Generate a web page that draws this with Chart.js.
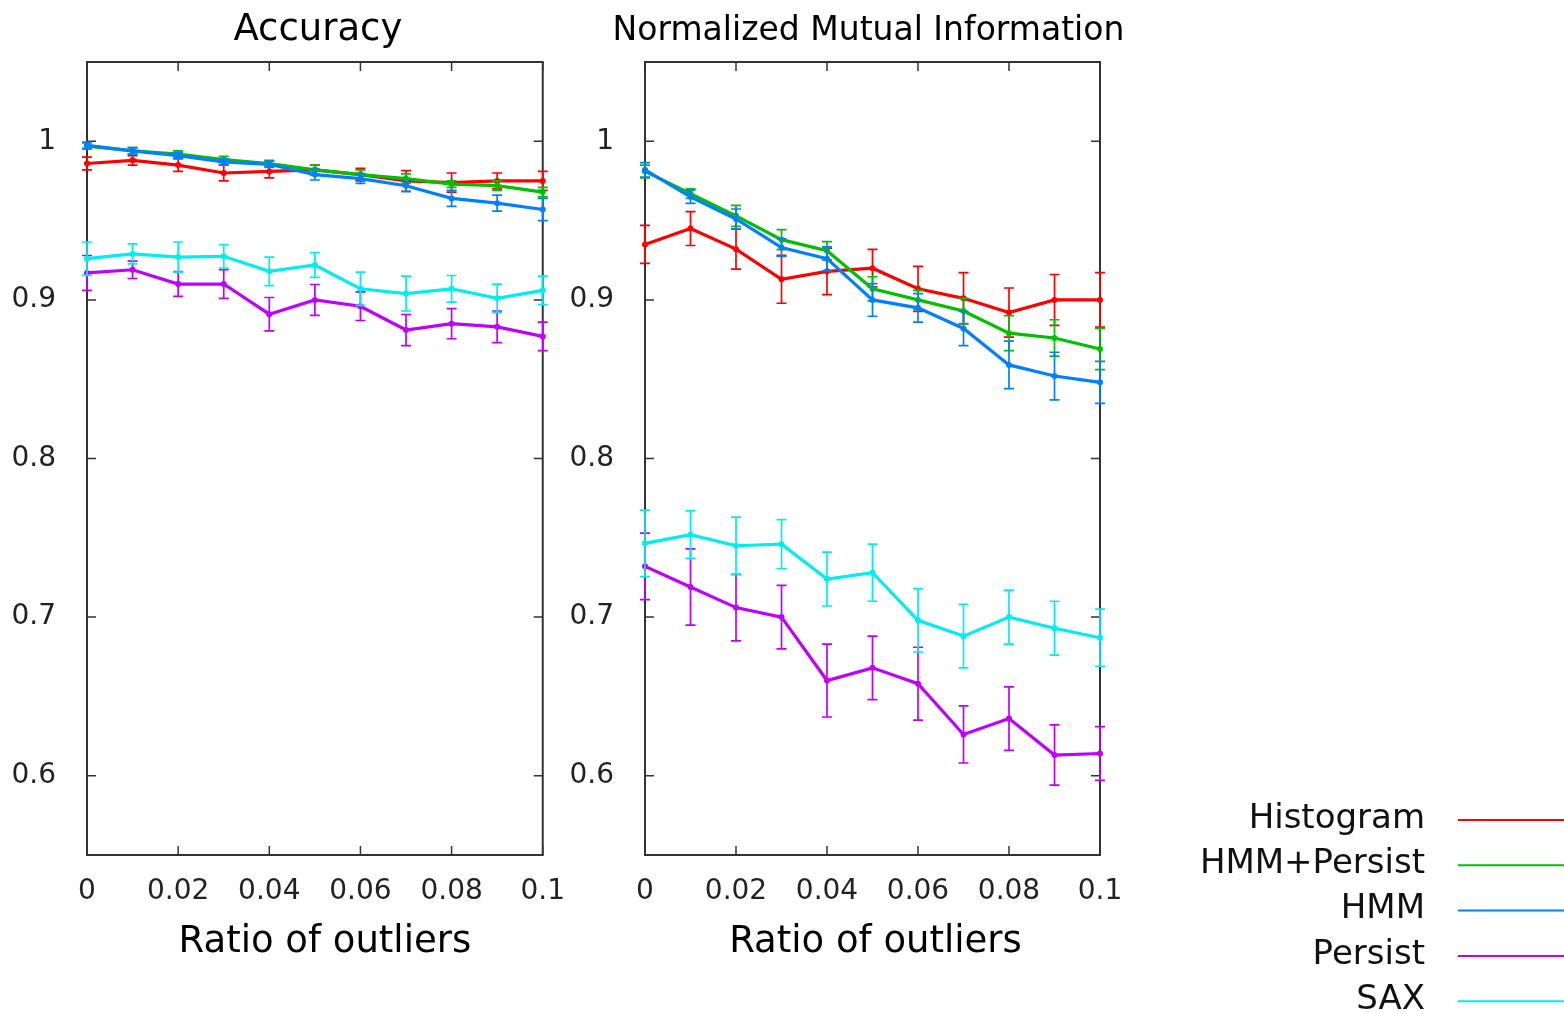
<!DOCTYPE html>
<html><head><meta charset="utf-8">
<script src="https://cdn.jsdelivr.net/npm/chart.js@4.4.1/dist/chart.umd.min.js"></script>
<style>
html,body{margin:0;padding:0;background:#fff;width:1564px;height:1014px;overflow:hidden}
.box{position:absolute;top:0;height:1014px}
#b1{left:0;width:577px}
#b2{left:558px;width:1006px}
</style></head><body>
<div class="box" id="b1"><canvas id="c1"></canvas></div>
<div class="box" id="b2"><canvas id="c2"></canvas></div>
<script>
// ---------- data ----------
const ratios = [0, 0.01, 0.02, 0.03, 0.04, 0.05, 0.06, 0.07, 0.08, 0.09, 0.1];
const xTicks = [0, 0.02, 0.04, 0.06, 0.08, 0.1];
const xTickLabels = ['0', '0.02', '0.04', '0.06', '0.08', '0.1'];
const yTicks = [0.6, 0.7, 0.8, 0.9, 1.0];
const yTickLabels = ['0.6', '0.7', '0.8', '0.9', '1'];
const seriesNames = ['Histogram', 'HMM+Persist', 'HMM', 'Persist', 'SAX'];
const seriesColors = ['#ff0000', '#00c000', '#0080ff', '#c000ff', '#00eeee'];
const chartTitles = ['Accuracy', 'Normalized Mutual Information'];
const xAxisTitle = 'Ratio of outliers';

// Accuracy
const accHist      = [0.986, 0.988, 0.985, 0.980, 0.981, 0.982, 0.979, 0.975, 0.974, 0.975, 0.975];
const accHistErr   = [0.004, 0.003, 0.004, 0.005, 0.004, 0.003, 0.004, 0.0065, 0.006, 0.005, 0.006];
const accHmmP      = [0.997, 0.994, 0.992, 0.9885, 0.986, 0.982, 0.979, 0.9765, 0.973, 0.972, 0.968];
const accHmmPErr   = [0.002, 0.002, 0.002, 0.002, 0.002, 0.003, 0.003, 0.003, 0.002, 0.003, 0.003];
const accHmm       = [0.9975, 0.994, 0.991, 0.987, 0.9855, 0.979, 0.9765, 0.972, 0.964, 0.961, 0.957];
const accHmmErr    = [0.002, 0.002, 0.002, 0.002, 0.002, 0.0034, 0.003, 0.0037, 0.005, 0.005, 0.007];
const accPers      = [0.917, 0.919, 0.910, 0.910, 0.891, 0.900, 0.896, 0.881, 0.885, 0.883, 0.877];
const accPersErr   = [0.011, 0.0055, 0.0078, 0.009, 0.0105, 0.0097, 0.009, 0.0098, 0.0095, 0.010, 0.009];
const accSax       = [0.926, 0.929, 0.927, 0.9275, 0.918, 0.922, 0.907, 0.904, 0.907, 0.901, 0.906];
const accSaxErr    = [0.0105, 0.0063, 0.0095, 0.0074, 0.009, 0.0078, 0.0105, 0.011, 0.0084, 0.009, 0.009];

// Normalized Mutual Information
const nmiHist      = [0.935, 0.945, 0.932, 0.913, 0.918, 0.920, 0.907, 0.901, 0.892, 0.900, 0.900];
const nmiHistErr   = [0.012, 0.0107, 0.0126, 0.0151, 0.0147, 0.0118, 0.0142, 0.0162, 0.0155, 0.016, 0.0172];
const nmiHmmP      = [0.981, 0.967, 0.953, 0.938, 0.931, 0.907, 0.900, 0.893, 0.879, 0.876, 0.869];
const nmiHmmPErr   = [0.004, 0.003, 0.0066, 0.0063, 0.0058, 0.0076, 0.006, 0.008, 0.011, 0.0115, 0.013];
const nmiHmm       = [0.982, 0.965, 0.951, 0.933, 0.926, 0.900, 0.895, 0.882, 0.859, 0.852, 0.848];
const nmiHmmErr    = [0.0046, 0.0042, 0.0063, 0.0055, 0.0075, 0.0103, 0.009, 0.0108, 0.015, 0.015, 0.0133];
const nmiPers      = [0.732, 0.719, 0.706, 0.700, 0.660, 0.668, 0.658, 0.626, 0.636, 0.613, 0.614];
const nmiPersErr   = [0.021, 0.024, 0.021, 0.020, 0.023, 0.020, 0.023, 0.018, 0.020, 0.019, 0.017];
const nmiSax       = [0.7465, 0.752, 0.745, 0.746, 0.724, 0.728, 0.698, 0.688, 0.700, 0.693, 0.687];
const nmiSaxErr    = [0.021, 0.015, 0.018, 0.0155, 0.017, 0.018, 0.020, 0.020, 0.017, 0.017, 0.018];

const accValues = [accHist, accHmmP, accHmm, accPers, accSax];
const accErrors = [accHistErr, accHmmPErr, accHmmErr, accPersErr, accSaxErr];
const nmiValues = [nmiHist, nmiHmmP, nmiHmm, nmiPers, nmiSax];
const nmiErrors = [nmiHistErr, nmiHmmPErr, nmiHmmErr, nmiPersErr, nmiSaxErr];

// ---------- styling ----------
const FONT = '"DejaVu Sans", "Liberation Sans", sans-serif';
const FRAME = '#333333';

const errorBarPlugin = {
  id: 'errorBars',
  afterDatasetDraw(chart, args) {
    const ds = chart.data.datasets[args.index];
    if (!ds.errors) return;
    const ctx = chart.ctx, ys = chart.scales.y;
    ctx.save();
    ctx.strokeStyle = ds.borderColor;
    ctx.lineWidth = 1.7;
    args.meta.data.forEach((pt, i) => {
      const v = ds.data[i].y, e = ds.errors[i];
      const t = ys.getPixelForValue(v + e), b = ys.getPixelForValue(v - e);
      const x = pt.x, cw = 5;
      ctx.beginPath();
      ctx.moveTo(x, t); ctx.lineTo(x, b);
      ctx.moveTo(x - cw, t); ctx.lineTo(x + cw, t);
      ctx.moveTo(x - cw, b); ctx.lineTo(x + cw, b);
      ctx.stroke();
    });
    ctx.restore();
  }
};

const framePlugin = {
  id: 'frame',
  beforeDatasetsDraw(chart) {
    const {ctx, chartArea: a, scales} = chart;
    ctx.save();
    ctx.strokeStyle = FRAME;
    ctx.lineWidth = 2;
    ctx.strokeRect(a.left, a.top, a.right - a.left, a.bottom - a.top);
    ctx.lineWidth = 1.5;
    const L = 9;
    ctx.beginPath();
    scales.x.ticks.forEach(t => {
      const x = scales.x.getPixelForValue(t.value);
      ctx.moveTo(x, a.bottom); ctx.lineTo(x, a.bottom - L);
      ctx.moveTo(x, a.top); ctx.lineTo(x, a.top + L);
    });
    scales.y.ticks.forEach(t => {
      const y = scales.y.getPixelForValue(t.value);
      ctx.moveTo(a.left, y); ctx.lineTo(a.left + L, y);
      ctx.moveTo(a.right, y); ctx.lineTo(a.right - L, y);
    });
    ctx.stroke();
    ctx.restore();
  }
};

const panelTextPlugin = {
  id: 'panelText',
  afterDraw(chart, args, opts) {
    if (!opts) return;
    const {ctx, chartArea: a} = chart;
    const cx = (a.left + a.right) / 2;
    ctx.save();
    ctx.fillStyle = '#000';
    ctx.textAlign = 'center';
    ctx.textBaseline = 'middle';
    ctx.font = opts.titleSize + 'px ' + FONT;
    ctx.fillText(opts.title, cx + opts.titleDx, opts.titleY);
    ctx.font = opts.axisSize + 'px ' + FONT;
    ctx.fillText(opts.axis, cx + opts.axisDx, opts.axisY);
    ctx.restore();
  }
};

const legendPlugin = {
  id: 'sideLegend',
  afterDraw(chart, args, opts) {
    if (!opts || !opts.show) return;
    const ctx = chart.ctx;
    ctx.save();
    ctx.font = '34px ' + FONT;
    ctx.textAlign = 'right';
    ctx.textBaseline = 'middle';
    const items = chart.data.datasets.slice().sort((p, q) => p.seriesIndex - q.seriesIndex);
    items.forEach((ds, i) => {
      const y = opts.top + i * opts.gap;
      ctx.fillStyle = '#111';
      ctx.fillText(ds.label, opts.textRight, y - 1);
      ctx.strokeStyle = ds.borderColor;
      ctx.lineWidth = 2;
      ctx.beginPath();
      ctx.moveTo(opts.lineLeft, y); ctx.lineTo(opts.lineRight, y);
      ctx.stroke();
    });
    ctx.restore();
  }
};

function makeDatasets(values, errors) {
  return seriesNames.map((name, s) => ({
    label: name,
    seriesIndex: s,
    order: seriesNames.length - s,
    data: ratios.map((r, i) => ({x: r, y: values[s][i]})),
    errors: errors[s],
    borderColor: seriesColors[s],
    backgroundColor: seriesColors[s],
    pointBackgroundColor: seriesColors[s],
    borderWidth: 3.2,
    pointRadius: 3,
    pointBorderWidth: 0,
    tension: 0,
    clip: 8
  }));
}

function makeOptions(textOpts, layoutPadRight, legendOpts) {
  return {
    responsive: true,
    maintainAspectRatio: false,
    animation: false,
    events: [],
    layout: {padding: {left: 0, top: 62, bottom: 0, right: layoutPadRight}},
    plugins: {
      legend: {display: false},
      tooltip: {enabled: false},
      title: {display: false},
      panelText: textOpts,
      sideLegend: legendOpts
    },
    scales: {
      x: {
        type: 'linear', min: 0, max: 0.1,
        grid: {display: false}, border: {display: false},
        afterBuildTicks: s => { s.ticks = xTicks.map(v => ({value: v})); },
        afterFit: s => { s.height = 159; },
        ticks: {
          padding: 12, color: '#222', maxRotation: 0, autoSkip: false,
          font: {family: FONT, size: 28, lineHeight: 1.2},
          callback: (v, i) => xTickLabels[i]
        }
      },
      y: {
        type: 'linear', min: 0.55, max: 1.05,
        grid: {display: false}, border: {display: false},
        afterBuildTicks: s => { s.ticks = yTicks.map(v => ({value: v})); },
        afterFit: s => { s.width = 87; },
        ticks: {
          padding: 23, color: '#222', autoSkip: false,
          font: {family: FONT, size: 28, lineHeight: 1.2},
          callback: (v, i) => yTickLabels[i]
        }
      }
    }
  };
}

new Chart(document.getElementById('c1'), {
  type: 'line',
  data: {datasets: makeDatasets(accValues, accErrors)},
  options: makeOptions({title: chartTitles[0], titleSize: 37, titleY: 30, titleDx: 3,
                        axis: xAxisTitle, axisSize: 37, axisY: 942, axisDx: 10}, 30, {show: false}),
  plugins: [framePlugin, errorBarPlugin, panelTextPlugin, legendPlugin]
});

new Chart(document.getElementById('c2'), {
  type: 'line',
  data: {datasets: makeDatasets(nmiValues, nmiErrors)},
  options: makeOptions({title: chartTitles[1], titleSize: 33, titleY: 31, titleDx: -4,
                        axis: xAxisTitle, axisSize: 37, axisY: 942, axisDx: 3}, 464,
    {show: true, top: 820, gap: 45.3, textRight: 867, lineLeft: 900, lineRight: 1006}),
  plugins: [framePlugin, errorBarPlugin, panelTextPlugin, legendPlugin]
});
</script>
</body></html>
